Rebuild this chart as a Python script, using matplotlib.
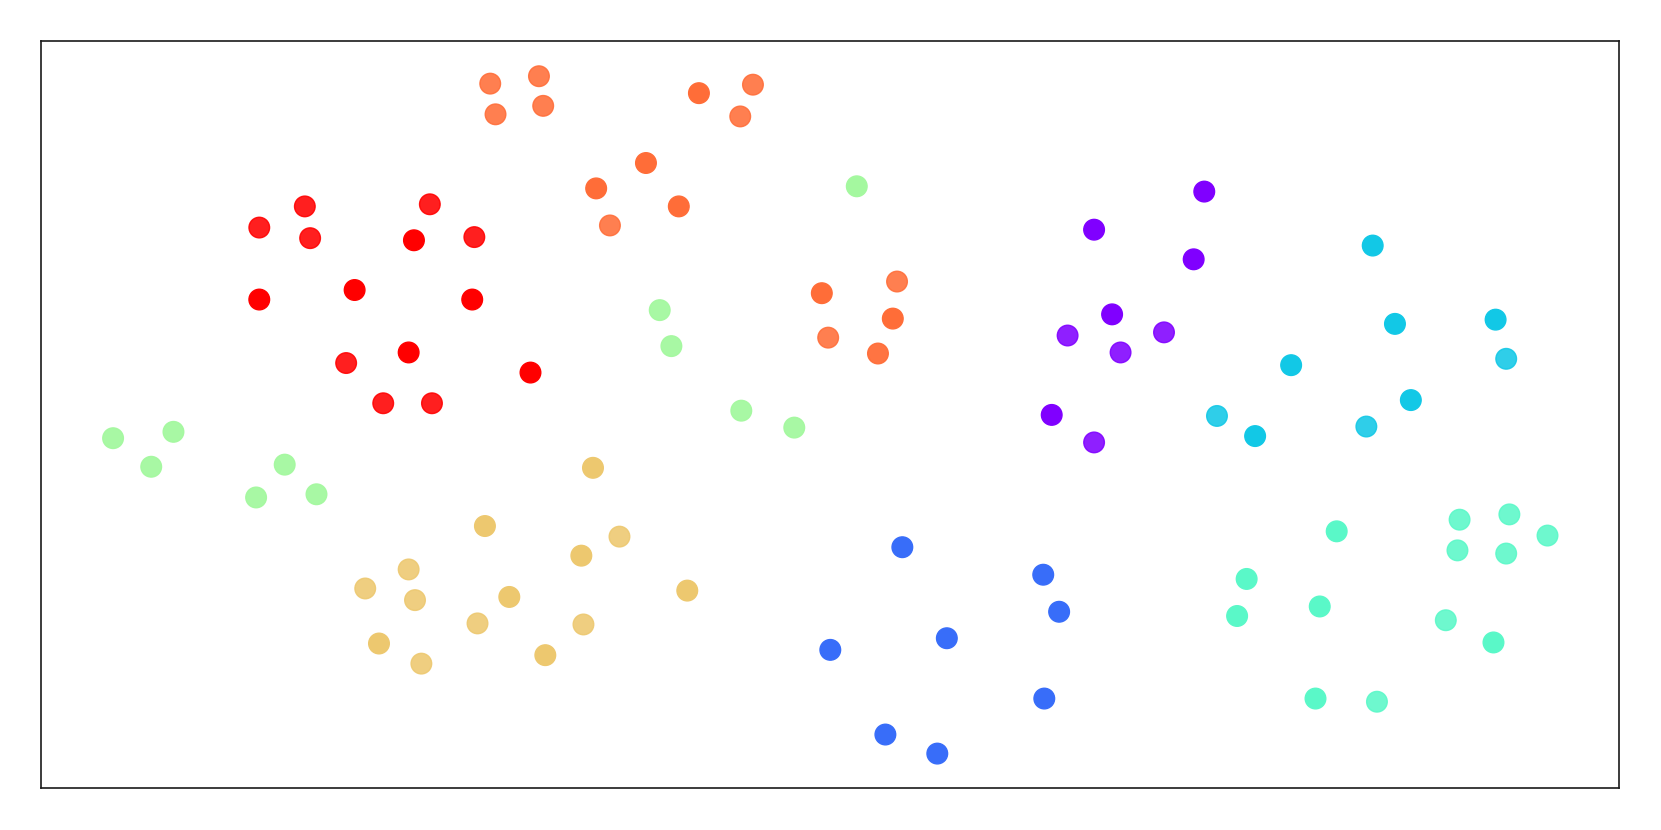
import matplotlib
matplotlib.use('Agg')
import matplotlib.pyplot as plt
import numpy as np

# cluster 0 purple, 1 blue, 2 cyan, 3 aquamarine, 4 light green, 5 yellow, 6 orange, 7 red
x0 = [1136, 1032, 1126, 1049, 1007, 1098, 1057, 992, 1032]
y0 = [180, 216, 244, 296, 316, 313, 332, 391, 417]
a0 = [1, 1, 1, 1, 0.88, 0.88, 0.88, 1, 0.88]

x1 = [851, 984, 999, 783, 893, 985, 835, 884]
y1 = [516, 542, 577, 613, 602, 659, 693, 711]
a1 = [1, 1, 1, 1, 1, 1, 1, 1]

x2 = [1295, 1316, 1411, 1421, 1218, 1331, 1148, 1184, 1289]
y2 = [231, 305, 301, 338, 344, 377, 392, 411, 402]
a2 = [1, 1, 1, 0.88, 1, 1, 0.88, 1, 0.88]

x3 = [1261, 1377, 1424, 1460, 1375, 1421, 1176, 1167, 1245, 1364, 1409, 1241, 1299]
y3 = [501, 490, 485, 505, 519, 522, 546, 581, 572, 585, 606, 659, 662]
a3 = [1, 0.88, 0.88, 0.88, 0.88, 0.88, 1, 1, 1, 0.88, 1, 1, 0.88]

x4 = [808, 622, 633, 699, 749, 106, 163, 142, 268, 241, 298]
y4 = [175, 292, 326, 387, 403, 413, 407, 440, 438, 469, 466]
a4 = [1, 0.95, 0.95, 0.95, 0.95, 0.95, 0.95, 0.95, 0.95, 0.95, 0.95]

x5 = [559, 457, 584, 548, 385, 344, 391, 480, 648, 357, 397, 450, 550, 514]
y5 = [441, 496, 506, 524, 537, 555, 566, 563, 557, 607, 626, 588, 589, 618]
a5 = [1, 1, 0.88, 1, 0.88, 0.88, 0.88, 1, 1, 1, 0.88, 0.88, 0.88, 1]

x6 = [462, 508, 467, 512, 659, 710, 698, 609, 562, 640, 575, 775, 846, 842, 781, 828]
y6 = [78, 71, 107, 99, 87, 79, 109, 153, 177, 194, 212, 276, 265, 300, 318, 333]
a6 = [0.88, 0.88, 0.88, 0.88, 1, 0.88, 0.88, 1, 1, 1, 0.88, 1, 0.88, 1, 0.88, 0.95]

x7 = [287, 244, 292, 405, 390, 447, 244, 334, 445, 326, 385, 500, 361, 407]
y7 = [194, 214, 224, 192, 226, 223, 282, 273, 282, 342, 332, 351, 380, 380]
a7 = [0.88, 0.88, 0.88, 0.88, 1, 0.88, 1, 1, 1, 0.88, 1, 1, 0.88, 0.88]

xs = [x0, x1, x2, x3, x4, x5, x6, x7]
ys = [y0, y1, y2, y3, y4, y5, y6, y7]
alphas = [a0, a1, a2, a3, a4, a5, a6, a7]

fig = plt.figure(figsize=(16.61, 8.30), dpi=100)
ax = fig.add_axes([0.0249, 0.051, 0.9497, 0.899])

cmap = plt.cm.rainbow
for k in range(8):
    col = cmap(k / 7)
    ax.scatter(xs[k], ys[k], s=220, color=col, alpha=alphas[k], zorder=3)

ax.set_xlim(38.3, 1527.3)
ax.set_ylim(743.2, 38.2)
ax.set_xticks([])
ax.set_yticks([])
for sp in ax.spines.values():
    sp.set_color('#1a1a1a')
    sp.set_linewidth(1.2)

plt.savefig('out.png', dpi=100)
